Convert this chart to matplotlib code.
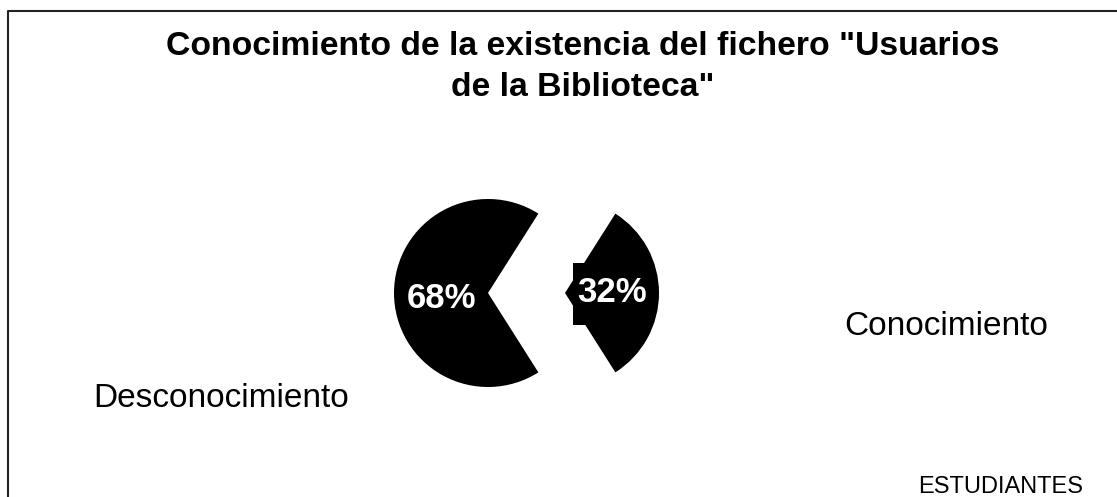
import matplotlib
matplotlib.use("Agg")
import matplotlib.pyplot as plt
from matplotlib.patches import Rectangle
from matplotlib.lines import Line2D

categories = ["Conocimiento", "Desconocimiento"]
values = [32, 68]
title = 'Conocimiento de la existencia del fichero "Usuarios\nde la Biblioteca"'
footer = "ESTUDIANTES"

W, H = 1117, 497
fig = plt.figure(figsize=(W / 100, H / 100), dpi=100)
ax = fig.add_axes([0, 0, 1, 1])

FONT = "Liberation Sans"
R = 94
cx, cy = 526.5, 293
half = 360 * values[0] / sum(values) / 2

wedges, texts, autotexts = ax.pie(
    values, center=(cx, cy), radius=R, startangle=-half,
    explode=[38.5, 38.5], colors=["black", "black"],
    autopct="%1.0f%%", pctdistance=0.5,
    wedgeprops=dict(linewidth=0),
    textprops=dict(color="white", fontsize=25, fontweight="bold", family=FONT),
    frame=True,
)
ax.set_xlim(0, W)
ax.set_ylim(H, 0)
ax.set_aspect("equal")
ax.axis("off")

# black label box behind the small slice's percentage
x0, y0 = autotexts[0].get_position()
ax.add_patch(Rectangle((x0 - 39, y0 - 30), 80, 62, color="black", zorder=1.5, lw=0))
autotexts[0].set_zorder(3)
autotexts[1].set_position((autotexts[1].get_position()[0], cy + 6))

# category labels
ax.text(946, 335, categories[0], ha="center", va="baseline", fontsize=24, family=FONT)
ax.text(221, 407, categories[1], ha="center", va="baseline", fontsize=24, family=FONT)
ax.text(1001, 493, footer, ha="center", va="baseline", fontsize=17, family=FONT)

ax.text(583, 67, title, ha="center", va="center", fontsize=24.3, fontweight="bold",
        family=FONT, linespacing=1.43)

# outer frame
ax.add_line(Line2D([8, 8, W + 5], [H + 5, 10.5, 10.5], color="#222222", lw=1.5, clip_on=False))

fig.savefig("out.png", dpi=100)
